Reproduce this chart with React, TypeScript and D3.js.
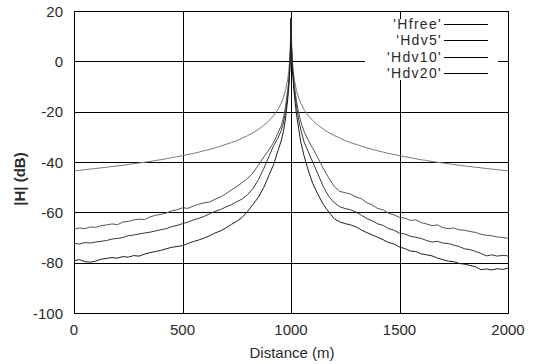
import { useRef, useEffect } from 'react';
import * as d3 from 'd3';

// distance along the line (m)
const distance = [
  0, 25, 50, 75, 100, 125, 150, 175, 200, 225, 250, 275, 300, 325, 350, 375, 400, 425, 450, 475,
  500, 525, 550, 575, 600, 625, 650, 675, 700, 725, 750, 775, 800, 825, 850, 875, 900,
  920, 940, 955, 965, 975, 985, 990, 994, 997, 999, 1000,
  1001, 1003, 1006, 1010, 1015, 1025, 1035, 1045, 1060, 1080, 1100, 1125, 1150,
  1175, 1200, 1225, 1250, 1275, 1300, 1325, 1350, 1375, 1400, 1425, 1450, 1475, 1500, 1525, 1550,
  1575, 1600, 1625, 1650, 1675, 1700, 1725, 1750, 1775, 1800, 1825, 1850, 1875, 1900, 1925, 1950,
  1975, 2000,
];

const hfree = [
  -43.5, -43.3, -43.05, -42.8, -42.6, -42.3, -42.1, -41.8, -41.6, -41.3,
  -41.0, -40.7, -40.4, -40.1, -39.8, -39.4, -39.1, -38.7, -38.3, -37.9,
  -37.5, -37.0, -36.6, -36.1, -35.5, -35.0, -34.4, -33.7, -33.0, -32.3,
  -31.5, -30.5, -29.5, -28.4, -27.0, -25.4, -23.5,
  -21.6, -19.1, -16.6, -14.4, -11.5, -7.0, -3.5, 0.9, 7.0, 16.5, 17.0,
  16.5, 7.0, 0.9, -3.5, -7.0, -11.5, -14.4, -16.6, -19.1, -21.6, -23.5, -25.4, -27.0,
  -28.4, -29.5, -30.5, -31.5, -32.3, -33.0, -33.7, -34.4, -35.0, -35.5,
  -36.1, -36.6, -37.0, -37.5, -37.9, -38.3, -38.7, -39.1, -39.4, -39.8,
  -40.1, -40.4, -40.7, -41.0, -41.3, -41.6, -41.8, -42.1, -42.3, -42.6,
  -42.8, -43.05, -43.3, -43.5,
];

const hdv5 = [
  -66.7, -66.2, -66.5, -65.8, -66.0, -65.3, -65.0, -64.6, -64.9, -63.9,
  -63.6, -63.0, -62.7, -62.9, -61.8, -61.2, -60.8, -60.3, -59.4, -59.0,
  -58.2, -58.4, -57.5, -56.8, -56.2, -55.9, -54.8, -53.9, -52.6, -51.1,
  -49.8, -48.2, -46.5, -44.3, -41.2, -38.0, -35.0,
  -32.2, -28.5, -25.5, -22.5, -18.0, -11.5, -7.5, -2.5, 3.5, 10.5, 17.0,
  10.5, 5.0, -1.0, -5.0, -9.5, -15.5, -20.5, -24.0, -27.8, -31.5, -34.5, -38.5, -42.8,
  -46.5, -49.8, -51.7, -52.2, -52.8, -53.9, -54.6, -56.2, -57.1, -58.5,
  -59.0, -60.4, -61.0, -62.0, -62.3, -63.2, -63.0, -64.1, -64.6, -65.3,
  -65.0, -66.1, -66.5, -66.2, -67.0, -67.1, -67.6, -68.0, -68.7, -69.1,
  -69.3, -69.8, -70.0, -70.3,
];

const hdv10 = [
  -72.3, -72.6, -72.0, -72.2, -71.8, -71.5, -71.2, -70.6, -70.4, -70.0,
  -69.3, -69.0, -68.6, -68.2, -67.9, -67.4, -66.9, -66.5, -65.7, -65.2,
  -64.5, -63.9, -63.0, -62.4, -61.6, -60.6, -59.6, -58.9, -57.9, -57.0,
  -55.8, -54.7, -53.0, -50.5, -47.0, -42.5, -37.5,
  -33.5, -30.5, -27.5, -24.5, -20.0, -13.0, -8.5, -3.5, 3.0, 10.0, 17.0,
  10.0, 4.0, -2.0, -6.0, -11.0, -17.5, -23.0, -27.0, -32.0, -36.0, -40.0, -45.0, -50.0,
  -53.8, -56.2, -57.8, -58.5, -59.0, -59.9, -61.2, -62.5, -63.4, -64.6,
  -65.2, -66.5, -67.1, -68.3, -68.6, -69.5, -69.9, -70.4, -71.2, -71.8,
  -71.5, -72.2, -72.4, -73.0, -73.6, -74.5, -74.8, -75.5, -76.3, -77.3,
  -76.9, -77.4, -77.1, -77.3,
];

const hdv20 = [
  -79.2, -78.8, -79.6, -79.8, -79.4, -78.6, -78.3, -78.0, -78.2, -77.6,
  -77.8, -77.2, -77.4, -76.6, -76.0, -75.6, -75.1, -74.5, -73.9, -73.6,
  -73.2, -72.4, -71.6, -71.0, -70.2, -69.3, -68.2, -67.4, -66.2, -64.8,
  -63.6, -62.0, -59.6, -56.8, -54.0, -50.0, -45.0,
  -41.0, -35.5, -31.5, -28.0, -22.5, -15.0, -10.0, -4.5, 2.5, 9.5, 17.0,
  9.5, 3.0, -3.0, -7.5, -13.0, -21.0, -26.5, -32.0, -37.5, -43.5, -48.5, -53.0, -57.0,
  -60.0, -62.6, -63.8, -64.5, -65.0, -65.8, -67.0, -68.1, -69.0, -69.9,
  -70.9, -72.0, -72.6, -73.8, -74.4, -75.4, -75.6, -76.5, -76.9, -77.3,
  -78.2, -78.8, -79.4, -79.6, -80.3, -80.6, -81.1, -81.6, -82.8, -82.5,
  -82.9, -82.4, -82.7, -82.2,
];

const seriesNames = ["'Hfree'", "'Hdv5'", "'Hdv10'", "'Hdv20'"];
const seriesValues = [hfree, hdv5, hdv10, hdv20];
const seriesColors = ['#7a7a7a', '#555555', '#383838', '#1e1e1e'];

const xTicks = [0, 500, 1000, 1500, 2000];
const yTicks = [-100, -80, -60, -40, -20, 0, 20];

const WIDTH = 534;
const HEIGHT = 364;
const FONT = "'Liberation Sans', Arial, Helvetica, sans-serif";
const TEXT_COLOR = '#2a2a2a';

export default function App() {
  const svgRef = useRef<SVGSVGElement>(null);

  useEffect(() => {
    if (!svgRef.current) return;
    const svg = d3.select(svgRef.current);
    svg.selectAll('*').remove();

    const left = 74;
    const right = 508;
    const top = 11;
    const bottom = 313;

    const x = d3.scaleLinear().domain([0, 2000]).range([left, right]);
    const y = d3.scaleLinear().domain([-100, 20]).range([bottom, top]);
    const px = (v: number) => Math.round(v) + 0.5;

    // grid
    const grid = svg.append('g').attr('stroke', '#000').attr('stroke-width', 1);
    yTicks.forEach((t) => {
      grid.append('line')
        .attr('x1', left).attr('x2', right)
        .attr('y1', px(y(t))).attr('y2', px(y(t)));
    });
    xTicks.forEach((t) => {
      grid.append('line')
        .attr('x1', px(x(t))).attr('x2', px(x(t)))
        .attr('y1', top).attr('y2', bottom);
    });

    // legend backdrop hides the grid behind the key
    svg.append('rect')
      .attr('x', 365).attr('y', 14)
      .attr('width', 133).attr('height', 66)
      .attr('fill', '#fff');

    // curves
    const line = d3.line<number>()
      .x((_, i) => x(distance[i]))
      .y((d) => y(d));

    seriesValues.forEach((vals, i) => {
      svg.append('path')
        .attr('d', line(vals) as string)
        .attr('fill', 'none')
        .attr('stroke', seriesColors[i])
        .attr('stroke-width', 1)
        .attr('stroke-linejoin', 'round');
    });

    // legend
    seriesNames.forEach((name, i) => {
      const ly = 24 + i * 16.3;
      svg.append('text')
        .attr('x', 442).attr('y', ly + 5)
        .attr('text-anchor', 'end')
        .attr('font-family', FONT)
        .attr('font-size', '14px')
        .attr('letter-spacing', '1.3px')
        .attr('fill', TEXT_COLOR)
        .text(name);
      svg.append('line')
        .attr('x1', 444).attr('x2', 488)
        .attr('y1', px(ly)).attr('y2', px(ly))
        .attr('stroke', '#000')
        .attr('stroke-width', 1);
    });

    // tick marks on all four sides
    const ticks = svg.append('g').attr('stroke', '#000').attr('stroke-width', 1);
    yTicks.forEach((t) => {
      ticks.append('line').attr('x1', left).attr('x2', left + 8).attr('y1', px(y(t))).attr('y2', px(y(t)));
      ticks.append('line').attr('x1', right - 8).attr('x2', right).attr('y1', px(y(t))).attr('y2', px(y(t)));
    });
    xTicks.forEach((t) => {
      ticks.append('line').attr('x1', px(x(t))).attr('x2', px(x(t))).attr('y1', bottom - 8).attr('y2', bottom);
      ticks.append('line').attr('x1', px(x(t))).attr('x2', px(x(t))).attr('y1', top).attr('y2', top + 8);
    });

    // frame
    svg.append('rect')
      .attr('x', px(left)).attr('y', px(top))
      .attr('width', Math.round(right) - Math.round(left))
      .attr('height', Math.round(bottom) - Math.round(top))
      .attr('fill', 'none')
      .attr('stroke', '#000')
      .attr('stroke-width', 1);

    // tick labels
    yTicks.forEach((t) => {
      svg.append('text')
        .attr('x', 63).attr('y', y(t))
        .attr('text-anchor', 'end')
        .attr('dominant-baseline', 'central')
        .attr('font-family', FONT)
        .attr('font-size', '15px')
        .attr('fill', TEXT_COLOR)
        .text(t);
    });
    xTicks.forEach((t) => {
      svg.append('text')
        .attr('x', x(t)).attr('y', 335)
        .attr('text-anchor', 'middle')
        .attr('font-family', FONT)
        .attr('font-size', '15px')
        .attr('fill', TEXT_COLOR)
        .text(t);
    });

    // axis titles
    svg.append('text')
      .attr('x', 292).attr('y', 358)
      .attr('text-anchor', 'middle')
      .attr('font-family', FONT)
      .attr('font-size', '15px')
      .attr('fill', TEXT_COLOR)
      .text('Distance (m)');

    svg.append('text')
      .attr('transform', 'translate(25,179) rotate(-90)')
      .attr('text-anchor', 'middle')
      .attr('font-family', FONT)
      .attr('font-size', '15px')
      .attr('font-weight', 'bold')
      .attr('fill', TEXT_COLOR)
      .text('|H| (dB)');
  }, []);

  return (
    <svg
      ref={svgRef}
      width={WIDTH}
      height={HEIGHT}
      style={{ position: 'absolute', left: 0, top: 0, background: '#fff' }}
    />
  );
}
